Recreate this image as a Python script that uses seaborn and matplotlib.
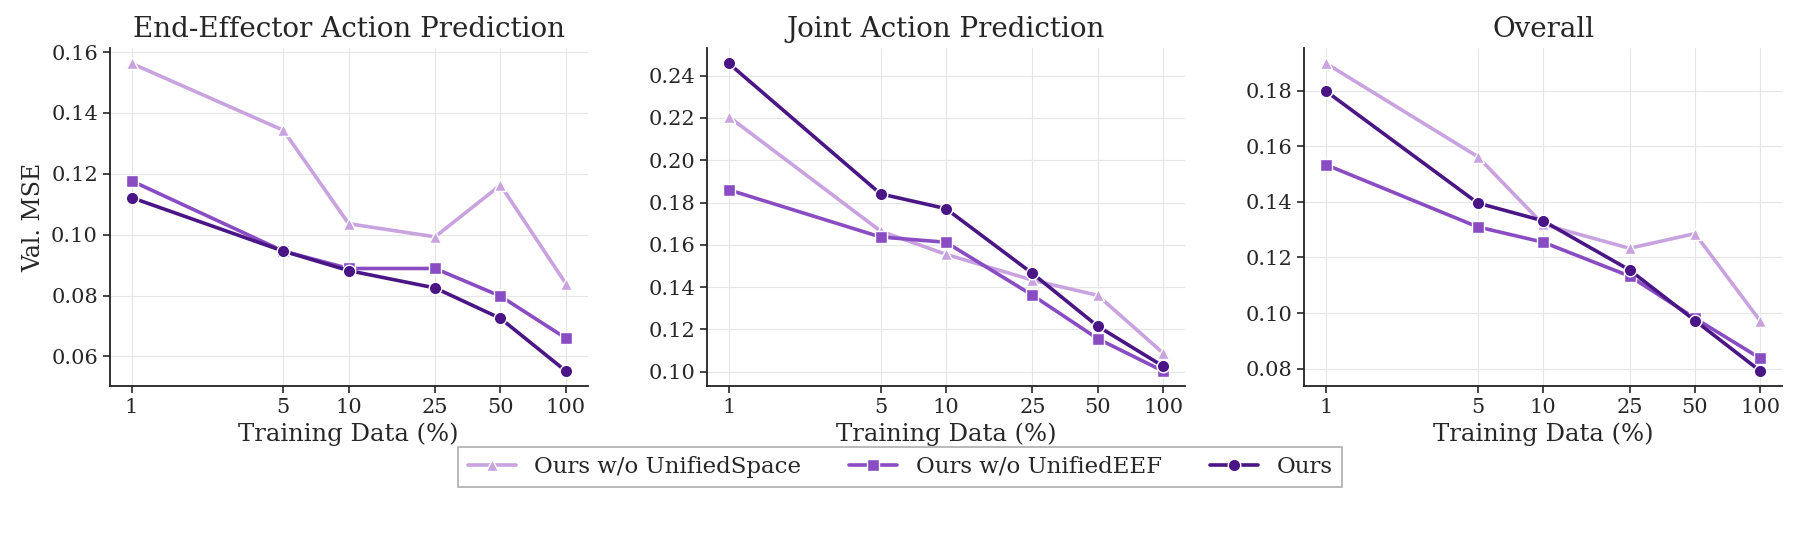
import numpy as np
import pandas as pd
import matplotlib
matplotlib.use("Agg")
import matplotlib.pyplot as plt
import matplotlib.ticker as mticker
import seaborn as sns

x_pct = [1, 5, 10, 25, 50, 100]
methods = ["Ours w/o UnifiedSpace", "Ours w/o UnifiedEEF", "Ours"]
panel_titles = ["End-Effector Action Prediction", "Joint Action Prediction", "Overall"]

eef_space = [0.1563, 0.1343, 0.1036, 0.0993, 0.1163, 0.0839]
eef_eef = [0.1177, 0.0946, 0.0889, 0.0889, 0.0798, 0.0660]
eef_ours = [0.1122, 0.0946, 0.0882, 0.0825, 0.0725, 0.0552]

joint_space = [0.2206, 0.1665, 0.1555, 0.1433, 0.1361, 0.1088]
joint_eef = [0.1860, 0.1637, 0.1612, 0.1362, 0.1156, 0.1003]
joint_ours = [0.2458, 0.1841, 0.1771, 0.1465, 0.1215, 0.1026]

overall_space = [0.1899, 0.1563, 0.1319, 0.1233, 0.1286, 0.0971]
overall_eef = [0.1534, 0.1310, 0.1255, 0.1133, 0.0981, 0.0837]
overall_ours = [0.1799, 0.1396, 0.1332, 0.1155, 0.0973, 0.0791]

colors = ["#c9a3e0", "#8a4cc2", "#4a1685"]
markers = ["^", "s", "o"]

sns.set_style("ticks")
plt.rcParams['font.family'] = ['DejaVu Serif']

panels = [
    [eef_space, eef_eef, eef_ours],
    [joint_space, joint_eef, joint_ours],
    [overall_space, overall_eef, overall_ours],
]

fig, axes = plt.subplots(1, 3, figsize=(18, 5.33), dpi=100)
for i, (ax, vals, title) in enumerate(zip(axes, panels, panel_titles)):
    rows = []
    for m, v in zip(methods, vals):
        for xx, yy in zip(x_pct, v):
            rows.append({"Training Data (%)": xx, "Val. MSE": yy, "Method": m})
    df = pd.DataFrame(rows)
    sns.lineplot(data=df, x="Training Data (%)", y="Val. MSE", hue="Method",
                 style="Method", hue_order=methods, style_order=methods,
                 palette=colors, markers=dict(zip(methods, markers)),
                 dashes=False, linewidth=2.6, markersize=9,
                 markeredgecolor="white", markeredgewidth=1,
                 ax=ax, legend=(i == 0))
    ax.set_xscale("log")
    ax.set_xticks(x_pct)
    ax.set_xticklabels([str(v) for v in x_pct])
    ax.minorticks_off()
    ax.yaxis.set_major_locator(mticker.MultipleLocator(0.02))
    ax.yaxis.set_major_formatter(mticker.FormatStrFormatter("%.2f"))
    ax.set_title(title, fontsize=20, pad=8)
    ax.set_xlabel("Training Data (%)", fontsize=17.5)
    ax.set_ylabel("Val. MSE" if i == 0 else "", fontsize=17)
    ax.tick_params(labelsize=15, length=5, width=1.2)
    ax.grid(True, color="#e6e6e6", linewidth=0.8)
    ax.set_axisbelow(True)
    for s in ["left", "bottom"]:
        ax.spines[s].set_linewidth(1.3)
        ax.spines[s].set_color("#222222")
    sns.despine(ax=ax)

handles, labels = axes[0].get_legend_handles_labels()
axes[0].get_legend().remove()
leg = fig.legend(handles, labels, loc="center", bbox_to_anchor=(0.5, 0.124), ncol=3,
                 fontsize=16.5, frameon=True, fancybox=False, edgecolor="#999999",
                 columnspacing=2.1, handlelength=2.1)
leg.get_frame().set_linewidth(1.2)

fig.subplots_adjust(left=0.061, right=0.99, top=0.91, bottom=0.275, wspace=0.25)
fig.savefig("out.png", dpi=100)
